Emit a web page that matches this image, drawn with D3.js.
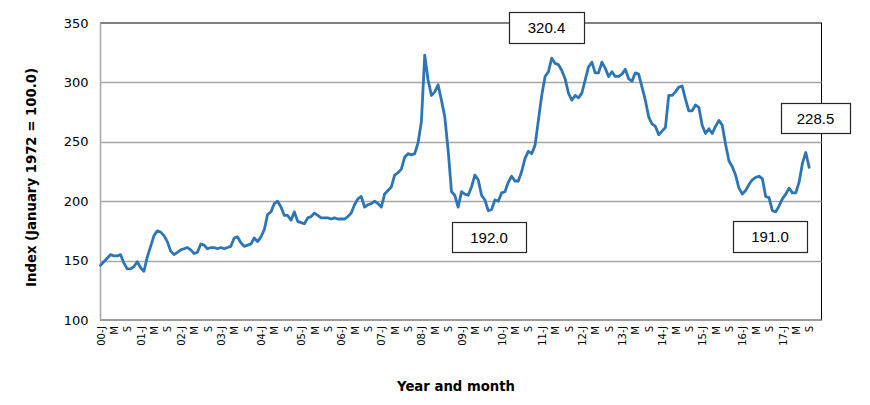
<!DOCTYPE html>
<html><head><meta charset="utf-8">
<script src="https://cdn.jsdelivr.net/npm/d3@7"></script>
<style>body{margin:0;background:#fff}svg{display:block}</style>
</head><body>
<svg id="c" width="870" height="405"></svg>
<script>
// ---- data ----
const yearLabels = ["00","01","02","03","04","05","06","07","08","09","10","11","12","13","14","15","16","17"];
const monthLetters = ["J","M","S"]; // every 4th month: Jan, May, Sep
const yTicks = [100,150,200,250,300,350];
const indexValues = [
 146,149,152,155,154,154,155,148,143,143,145,149,
 144,141,153,162,171,175,174,171,166,158,155,157,
 159,160,161,159,156,157,164,163,160,161,161,160,
 161,160,161,162,169,170,165,162,163,164,169,166,
 170,176,189,191,198,200,195,188,188,184,191,183,
 182,181,186,187,190,188,186,186,186,185,186,185,
 185,185,187,190,197,202,204,195,197,198,200,198,
 195,206,209,212,222,224,227,237,240,239,240,249,
 267,323,302,289,292,298,285,271,243,208,205,195,
 208,206,205,212,222,218,205,201,192,193,201,200,
 207,208,216,221,217,217,225,236,242,240,247,268,
 289,305,309,320.4,316,315,310,303,291,285,289,287,
 291,302,313,317,308,308,317,312,305,309,305,305,
 307,311,303,301,308,307,296,285,271,265,263,256,
 259,262,289,289,292,296,297,286,276,276,281,279,
 264,257,261,257,263,268,264,248,234,229,222,211,
 206,209,214,218,220,221,219,204,203,192,191,196,
 202,206,211,207,207,216,232,241,228.5
];
const callouts = [
  {label:"320.4", idx:135, bx:509, by:12, bw:75, bh:31},
  {label:"192.0", idx:116, bx:452, by:222, bw:74, bh:30},
  {label:"191.0", idx:202, bx:733, by:221, bw:74, bh:31},
  {label:"228.5", idx:212, bx:781, by:103, bw:69, bh:30}
];
const yTitle = "Index (January 1972 = 100.0)";
const xTitle = "Year and month";

// ---- layout ----
const L = 100.5, R = 821.5, T = 23, B = 320;
const svg = d3.select("#c");
const nCats = 216; // category slots Jan 2000 .. Dec 2017
const x = d3.scaleLinear().domain([0, nCats - 0.3]).range([L, R]);
const y = d3.scaleLinear().domain([100, 350]).range([B, T]);

// tick categories every 4 months
const tickIdx = [];
yearLabels.forEach((yr, k) => monthLetters.forEach((m, j) => {
  const i = k * 12 + j * 4;
  if (i < indexValues.length) tickIdx.push({i, label: j === 0 ? yr + "-" + m : m});
}));

// plot frame (black top/right)
svg.append("rect").attr("x", L).attr("y", T).attr("width", R - L).attr("height", B - T)
  .attr("fill", "none").attr("stroke", "#000").attr("stroke-width", 1);

// gridlines
svg.append("g").selectAll("line").data(yTicks.filter(v => v > 100 && v < 350)).join("line")
  .attr("x1", L).attr("x2", R).attr("y1", d => Math.round(y(d)) + 0.5).attr("y2", d => Math.round(y(d)) + 0.5)
  .attr("stroke", "#a6a6a6").attr("stroke-width", 1.5);

// axes lines (grey)
svg.append("line").attr("x1", L).attr("x2", L).attr("y1", T).attr("y2", B).attr("stroke", "#a6a6a6").attr("stroke-width", 1.5);
svg.append("line").attr("x1", L).attr("x2", R).attr("y1", B).attr("y2", B).attr("stroke", "#a6a6a6").attr("stroke-width", 1.5);

// y axis labels
const yAxis = d3.axisLeft(y).tickValues(yTicks).tickSize(0).tickPadding(12);
const gy = svg.append("g").attr("transform", `translate(${L},0)`).call(yAxis);
gy.select(".domain").remove();
gy.selectAll("text").attr("font-family", "DejaVu Sans, sans-serif").attr("font-size", 13).attr("fill", "#000");

// x axis labels
const xAxis = d3.axisBottom(x).tickValues(tickIdx.map(d => d.i))
  .tickFormat(i => tickIdx.find(t => t.i === i).label).tickSize(0);
const gx = svg.append("g").attr("transform", `translate(0,${B})`).call(xAxis);
gx.select(".domain").remove();
gx.selectAll("text")
  .attr("font-family", "DejaVu Sans, sans-serif").attr("font-size", 10).attr("fill", "#000")
  .attr("text-anchor", "end").attr("transform", "rotate(-90)")
  .attr("x", -6).attr("y", 0).attr("dy", "0.36em");

// line
svg.append("path").datum(indexValues)
  .attr("fill", "none").attr("stroke", "#2e75b6").attr("stroke-width", 2.8)
  .attr("stroke-linejoin", "round").attr("stroke-linecap", "round")
  .attr("d", d3.line().x((d, i) => x(i)).y(d => y(d)));

// callouts
const cg = svg.append("g").selectAll("g").data(callouts).join("g");
cg.append("rect").attr("x", d => d.bx + 0.5).attr("y", d => d.by + 0.5).attr("width", d => d.bw).attr("height", d => d.bh)
  .attr("fill", "#fff").attr("stroke", "#262626").attr("stroke-width", 1.2);
cg.append("text").attr("x", d => d.bx + d.bw / 2).attr("y", d => d.by + d.bh / 2 + 0.5).attr("dy", "0.36em")
  .attr("text-anchor", "middle").attr("font-family", "Liberation Sans, Arial, sans-serif").attr("font-size", 15)
  .attr("fill", "#000").text(d => d.label);

// titles
svg.append("text").attr("transform", "translate(36,177.5) rotate(-90)")
  .attr("text-anchor", "middle").attr("font-family", "DejaVu Sans, sans-serif").attr("font-weight", "bold")
  .attr("font-size", 14).attr("textLength", 219).attr("lengthAdjust", "spacingAndGlyphs").text(yTitle);
svg.append("text").attr("x", 456).attr("y", 391)
  .attr("text-anchor", "middle").attr("font-family", "DejaVu Sans, sans-serif").attr("font-weight", "bold")
  .attr("font-size", 14).attr("textLength", 118).attr("lengthAdjust", "spacingAndGlyphs").text(xTitle);
</script>
</body></html>
